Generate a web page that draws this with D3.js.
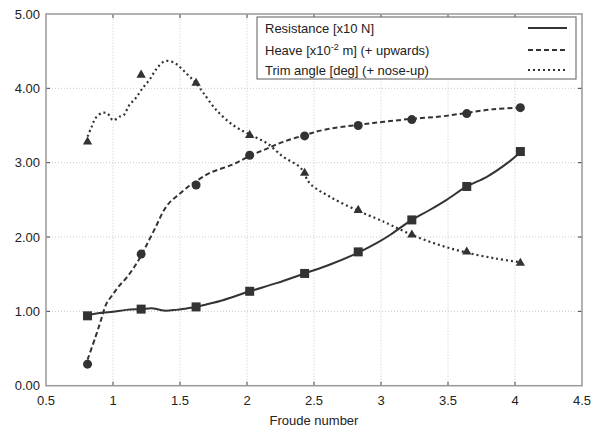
<!DOCTYPE html>
<meta charset="utf-8">
<style>
  body { margin: 0; background: white; }
  text { font-family: "Liberation Sans", Arial, sans-serif; fill: #222; }
</style>
<body>
<script src="https://cdn.jsdelivr.net/npm/d3@7"></script>
<script>

// measured points (markers)
var froude = [0.81, 1.21, 1.62, 2.02, 2.43, 2.83, 3.23, 3.64, 4.04];
var resistancePts = [0.94, 1.03, 1.06, 1.27, 1.51, 1.80, 2.23, 2.68, 3.15];
var heavePts      = [0.29, 1.77, 2.70, 3.10, 3.36, 3.50, 3.58, 3.66, 3.74];
var trimPts       = [3.28, 4.18, 4.07, 3.37, 2.86, 2.36, 2.03, 1.80, 1.65];

// fitted curves
var resistanceCurve = [
  [0.81,0.95],[0.92,0.98],[1.00,0.995],[1.10,1.02],[1.21,1.03],[1.30,1.04],
  [1.38,1.01],[1.47,1.02],[1.55,1.04],[1.62,1.06],[1.69,1.09],[1.82,1.15],
  [2.02,1.27],[2.22,1.38],[2.43,1.51],[2.62,1.63],[2.83,1.79],[2.97,1.92],
  [3.07,2.03],[3.14,2.12],[3.23,2.23],[3.36,2.36],[3.49,2.50],[3.64,2.68],
  [3.79,2.81],[3.94,2.99],[4.04,3.14]
];
var heaveCurve = [
  [0.81,0.35],[0.87,0.66],[0.91,0.88],[0.95,1.10],[1.00,1.23],[1.04,1.33],
  [1.10,1.45],[1.16,1.60],[1.21,1.75],[1.25,1.89],[1.32,2.14],[1.38,2.36],
  [1.43,2.48],[1.49,2.57],[1.57,2.69],[1.62,2.75],[1.72,2.86],[1.90,2.98],
  [2.02,3.09],[2.15,3.19],[2.27,3.28],[2.43,3.37],[2.57,3.44],[2.83,3.51],
  [3.02,3.55],[3.23,3.59],[3.44,3.62],[3.64,3.67],[3.84,3.72],[4.04,3.74]
];
var trimCurve = [
  [0.81,3.35],[0.84,3.48],[0.87,3.60],[0.92,3.67],[0.96,3.66],[1.00,3.57],
  [1.05,3.62],[1.08,3.64],[1.12,3.77],[1.17,3.87],[1.22,4.00],[1.27,4.11],
  [1.32,4.25],[1.37,4.35],[1.41,4.37],[1.47,4.33],[1.52,4.25],[1.57,4.16],
  [1.62,4.07],[1.67,3.95],[1.77,3.71],[1.90,3.50],[2.02,3.38],[2.15,3.26],
  [2.27,3.08],[2.40,2.93],[2.47,2.72],[2.62,2.54],[2.82,2.36],[2.99,2.23],
  [3.04,2.19],[3.23,2.03],[3.44,1.89],[3.64,1.79],[3.86,1.71],[4.04,1.66]
];

var xTicks = [0.5, 1, 1.5, 2, 2.5, 3, 3.5, 4, 4.5];
var yTicks = [0, 1, 2, 3, 4, 5];

var width = 593, height = 428;
var x = d3.scaleLinear().domain([0.5, 4.5]).range([46, 582]);
var y = d3.scaleLinear().domain([0, 5]).range([385.7, 14]);

var svg = d3.select("body").append("svg")
  .attr("width", width)
  .attr("height", height);

// grid
svg.append("g").selectAll("line")
  .data(xTicks.slice(1, -1))
  .enter().append("line")
    .attr("x1", d => x(d)).attr("x2", d => x(d))
    .attr("y1", y(0)).attr("y2", y(5))
    .attr("stroke", "#bbb").attr("stroke-width", 0.8)
    .attr("stroke-dasharray", "1,2");
svg.append("g").selectAll("line")
  .data(yTicks.slice(1, -1))
  .enter().append("line")
    .attr("x1", x(0.5)).attr("x2", x(4.5))
    .attr("y1", d => y(d)).attr("y2", d => y(d))
    .attr("stroke", "#bbb").attr("stroke-width", 0.8)
    .attr("stroke-dasharray", "1,2");

// inward ticks on all four sides
var tk = 4;
var ticks = svg.append("g").attr("stroke", "#444").attr("stroke-width", 1);
xTicks.slice(1, -1).forEach(function(d) {
  ticks.append("line").attr("x1", x(d)).attr("x2", x(d)).attr("y1", y(0)).attr("y2", y(0) - tk);
  ticks.append("line").attr("x1", x(d)).attr("x2", x(d)).attr("y1", y(5)).attr("y2", y(5) + tk);
});
yTicks.slice(1, -1).forEach(function(d) {
  ticks.append("line").attr("x1", x(0.5)).attr("x2", x(0.5) + tk).attr("y1", y(d)).attr("y2", y(d));
  ticks.append("line").attr("x1", x(4.5)).attr("x2", x(4.5) - tk).attr("y1", y(d)).attr("y2", y(d));
});

// frame
svg.append("rect")
  .attr("x", x(0.5)).attr("y", y(5))
  .attr("width", x(4.5) - x(0.5)).attr("height", y(0) - y(5))
  .attr("fill", "none").attr("stroke", "#999").attr("stroke-width", 1.5);

// tick labels
svg.append("g").selectAll("text")
  .data(xTicks)
  .enter().append("text")
    .attr("x", d => x(d)).attr("y", 405)
    .attr("text-anchor", "middle")
    .attr("font-size", 13)
    .text(d => d);
svg.append("g").selectAll("text")
  .data(yTicks)
  .enter().append("text")
    .attr("x", 40).attr("y", d => y(d))
    .attr("dy", "0.36em")
    .attr("text-anchor", "end")
    .attr("font-size", 13)
    .text(d => d3.format(".2f")(d));

svg.append("text")
  .attr("x", 314).attr("y", 425)
  .attr("text-anchor", "middle")
  .attr("font-size", 13)
  .text("Froude number");

// curves
var line = d3.line().x(d => x(d[0])).y(d => y(d[1])).curve(d3.curveCatmullRom);
var ink = "#333";

svg.append("path").datum(resistanceCurve)
  .attr("d", line).attr("fill", "none")
  .attr("stroke", ink).attr("stroke-width", 2);
svg.append("path").datum(heaveCurve)
  .attr("d", line).attr("fill", "none")
  .attr("stroke", ink).attr("stroke-width", 2)
  .attr("stroke-dasharray", "5,3");
svg.append("path").datum(trimCurve)
  .attr("d", line).attr("fill", "none")
  .attr("stroke", ink).attr("stroke-width", 2.2)
  .attr("stroke-dasharray", "2,3");

// markers
svg.append("g").selectAll("rect")
  .data(froude)
  .enter().append("rect")
    .attr("x", d => x(d) - 4.5)
    .attr("y", (d, i) => y(resistancePts[i]) - 4.5)
    .attr("width", 9).attr("height", 9)
    .attr("fill", ink);
svg.append("g").selectAll("circle")
  .data(froude)
  .enter().append("circle")
    .attr("cx", d => x(d))
    .attr("cy", (d, i) => y(heavePts[i]))
    .attr("r", 4.5)
    .attr("fill", ink);
var tri = d3.symbol().type(d3.symbolTriangle).size(38);
svg.append("g").selectAll("path")
  .data(froude)
  .enter().append("path")
    .attr("d", tri)
    .attr("transform", (d, i) => `translate(${x(d)},${y(trimPts[i])})`)
    .attr("fill", ink);

// legend
var legend = svg.append("g");
legend.append("rect")
  .attr("x", 257).attr("y", 17)
  .attr("width", 319).attr("height", 62)
  .attr("fill", "white").attr("stroke", "#777").attr("stroke-width", 1.2);

var legendRows = [
  { y: 28, dash: null, w: 2 },
  { y: 50, dash: "5,3", w: 2 },
  { y: 70, dash: "2,3", w: 2.2 }
];
legendRows.forEach(function(r) {
  legend.append("line")
    .attr("x1", 528).attr("x2", 567)
    .attr("y1", r.y).attr("y2", r.y)
    .attr("stroke", ink).attr("stroke-width", r.w)
    .attr("stroke-dasharray", r.dash);
});

legend.append("text")
  .attr("x", 265).attr("y", 33).attr("font-size", 13)
  .text("Resistance [x10 N]");
var heaveText = legend.append("text")
  .attr("x", 265).attr("y", 55).attr("font-size", 13);
heaveText.append("tspan").text("Heave [x10");
heaveText.append("tspan").attr("dy", -5).attr("font-size", 9).text("-2");
heaveText.append("tspan").attr("dy", 5).text(" m] (+ upwards)");
legend.append("text")
  .attr("x", 265).attr("y", 75).attr("font-size", 13)
  .text("Trim angle [deg] (+ nose-up)");

</script>
</body>
